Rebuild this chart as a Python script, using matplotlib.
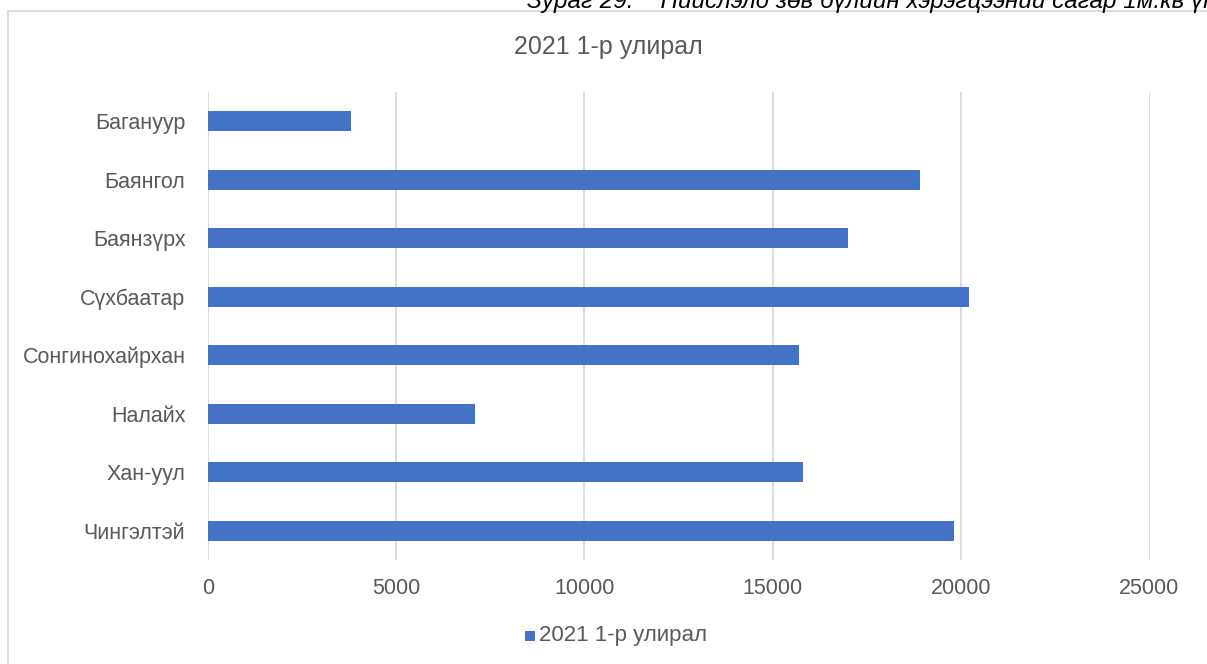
import matplotlib
matplotlib.use("Agg")
import matplotlib.pyplot as plt
from matplotlib.patches import Rectangle

plt.rcParams['font.family'] = ['Liberation Sans', 'DejaVu Sans']

categories = ["Багануур", "Баянгол", "Баянзүрх", "Сүхбаатар",
              "Сонгинохайрхан", "Налайх", "Хан-уул", "Чингэлтэй"]
values = [3800, 18900, 17000, 20200, 15700, 7100, 15800, 19800]
series_name = "2021 1-р улирал"
xticks = [0, 5000, 10000, 15000, 20000, 25000]
caption = "Зураг 29.    Нийслэлд зөв бүлийн хэрэгцээний сагар 1м.кв үнэ"

W, H = 1207, 664
fig = plt.figure(figsize=(W / 100, H / 100), dpi=100)
fig.patch.set_facecolor("white")

# outer chart border (clipped at right/bottom)
fig.patches.append(Rectangle((8 / W, -0.1), 1.2, (H - 11) / H + 0.1,
                             transform=fig.transFigure, fill=False,
                             edgecolor="#d9d9d9", linewidth=1.3))

# caption partially cut off at top (as in the reference)
fig.text(527 / W, 1 - 8 / H, caption, ha="left", va="baseline",
         fontsize=17.5, style="italic", color="black")

left, right = 207.7, 1149.5
top, bottom = 92, 560
ax = fig.add_axes([left / W, 1 - bottom / H, (right - left) / W, (bottom - top) / H])

y = list(range(len(categories)))
ax.barh(y, values, height=0.34, color="#4472c4", zorder=3)
ax.set_ylim(len(categories) - 0.5, -0.5)
ax.set_xlim(0, 25000)
ax.set_yticks(y)
ax.set_yticklabels(categories)
ax.set_xticks(xticks)
ax.set_xticklabels([str(t) for t in xticks])
ax.grid(axis="x", color="#d9d9d9", linewidth=1.3, zorder=0)
for s in ax.spines.values():
    s.set_visible(False)
ax.tick_params(axis="both", length=0, labelsize=15.5, colors="#595959")
ax.tick_params(axis="y", pad=16)
ax.tick_params(axis="x", pad=13)

fig.text(608 / W, 1 - 47 / H, series_name, ha="center", va="center",
         fontsize=18, color="#595959")

# legend
fig.patches.append(Rectangle((525 / W, 1 - 641 / H), 10 / W, 10 / H,
                             transform=fig.transFigure, facecolor="#4472c4",
                             edgecolor="none"))
fig.text(539 / W, 1 - 636 / H, series_name, ha="left", va="center",
         fontsize=16, color="#595959")

fig.savefig("out.png", dpi=100)
